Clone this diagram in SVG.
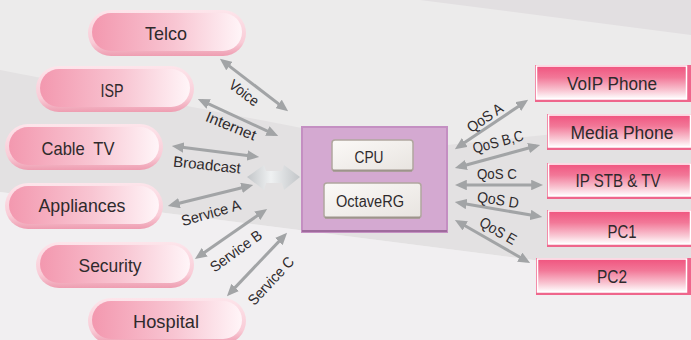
<svg xmlns="http://www.w3.org/2000/svg" width="691" height="340" viewBox="0 0 691 340">
<defs>
<linearGradient id="pillIn" x1="0" y1="0" x2="1" y2="0"><stop offset="0" stop-color="#f398af"/><stop offset="0.55" stop-color="#f8c5d2"/><stop offset="1" stop-color="#fff5f8"/></linearGradient>
<linearGradient id="pillRim" x1="0" y1="0" x2="0" y2="1"><stop offset="0" stop-color="#fde5eb"/><stop offset="0.7" stop-color="#f9ccd7"/><stop offset="1" stop-color="#ee9db1"/></linearGradient>
<linearGradient id="boxIn" x1="0" y1="0" x2="0" y2="1"><stop offset="0" stop-color="#f0547f"/><stop offset="0.35" stop-color="#f27898"/><stop offset="0.75" stop-color="#f9c8d4"/><stop offset="1" stop-color="#ffffff"/></linearGradient>
<linearGradient id="btn" x1="0" y1="0" x2="1" y2="1"><stop offset="0" stop-color="#fbf9f7"/><stop offset="1" stop-color="#e8e4e0"/></linearGradient>
<linearGradient id="dbl" x1="0" y1="0" x2="1" y2="0"><stop offset="0" stop-color="#c2c5c8"/><stop offset="0.45" stop-color="#eff1f2"/><stop offset="1" stop-color="#c2c5c8"/></linearGradient>
<marker id="ah" viewBox="0 0 4 3.5" markerWidth="4" markerHeight="3.5" refX="2.6" refY="1.75" orient="auto-start-reverse" markerUnits="strokeWidth"><path d="M0,0 L4,1.75 L0,3.5 z" fill="#a2a4a6"/></marker>
<style>
.rim{fill:url(#pillRim)}
.pin{fill:url(#pillIn)}
.frame{fill:#ef668c}
.bin{fill:url(#boxIn);stroke:#ffffff;stroke-width:1.5}
.btn{fill:url(#btn);stroke:#b0a79e;stroke-width:1.5}
.nl{font-family:"Liberation Sans",Arial,sans-serif;font-size:19px;fill:#2e2a2c;text-anchor:middle}
.rl{font-family:"Liberation Sans",Arial,sans-serif;font-size:18px;fill:#2e2a2c;text-anchor:middle}
.cl{font-family:"Liberation Sans",Arial,sans-serif;font-size:16px;fill:#2e2a2c;text-anchor:middle}
.el{font-family:"Liberation Sans",Arial,sans-serif;font-size:15px;fill:#2e2a2c;text-anchor:middle}
.arr{stroke:#a2a4a6;stroke-width:3;fill:none;marker-start:url(#ah);marker-end:url(#ah)}
</style>
</defs>
<g id="background">
<rect x="0" y="0" width="691" height="340" fill="#ecebeb"/>
<polygon points="420,0 691,0 691,35" fill="#e2dfe1"/>
<polygon points="0,70 302,128 447,145 691,120 691,280 0,192" fill="#e3e1e2"/>
<polygon points="0,192 691,280 691,340 0,340" fill="#f1eff1"/>
</g>
<g id="connectors">
<line class="arr" x1="223.2" y1="61.4" x2="284.8" y2="108.6"/>
<line class="arr" x1="201.6" y1="100.7" x2="274.4" y2="134.3"/>
<line class="arr" x1="176" y1="146.5" x2="255" y2="156.5"/>
<line class="arr" x1="171.9" y1="205" x2="249.1" y2="186"/>
<line class="arr" x1="198.3" y1="256.7" x2="263.7" y2="211.3"/>
<line class="arr" x1="229.8" y1="293.1" x2="284.2" y2="235.9"/>
<line class="arr" x1="458.3" y1="146.8" x2="524.7" y2="102.2"/>
<line class="arr" x1="458.9" y1="167" x2="536.1" y2="146"/>
<line class="arr" x1="459" y1="185" x2="539" y2="185"/>
<line class="arr" x1="458.9" y1="202.7" x2="538.1" y2="216.3"/>
<line class="arr" x1="458.5" y1="222" x2="526.5" y2="261"/>
<polygon points="247,177 264,165 266,171 282,171 284,165 300,177 284,190 282,183 266,183 264,190" fill="url(#dbl)"/>
<g transform="translate(244,93) rotate(37)"><text class="el" x="0" y="5" textLength="33" lengthAdjust="spacingAndGlyphs">Voice</text></g>
<g transform="translate(231,126) rotate(22)"><text class="el" x="0" y="5" textLength="53" lengthAdjust="spacingAndGlyphs">Internet</text></g>
<g transform="translate(207,165) rotate(6)"><text class="el" x="0" y="5" textLength="68" lengthAdjust="spacingAndGlyphs">Broadcast</text></g>
<g transform="translate(211,213) rotate(-16)"><text class="el" x="0" y="5" textLength="61" lengthAdjust="spacingAndGlyphs">Service A</text></g>
<g transform="translate(236,251) rotate(-36)"><text class="el" x="0" y="5" textLength="60" lengthAdjust="spacingAndGlyphs">Service B</text></g>
<g transform="translate(271,281) rotate(-47)"><text class="el" x="0" y="5" textLength="60" lengthAdjust="spacingAndGlyphs">Service C</text></g>
<g transform="translate(485,118) rotate(-34)"><text class="el" x="0" y="5" textLength="40" lengthAdjust="spacingAndGlyphs">QoS A</text></g>
<g transform="translate(498,142) rotate(-15)"><text class="el" x="0" y="5" textLength="52" lengthAdjust="spacingAndGlyphs">QoS B,C</text></g>
<g transform="translate(497,174)"><text class="el" x="0" y="5" textLength="40" lengthAdjust="spacingAndGlyphs">QoS C</text></g>
<g transform="translate(498,200) rotate(9)"><text class="el" x="0" y="5" textLength="42" lengthAdjust="spacingAndGlyphs">QoS D</text></g>
<g transform="translate(498,231) rotate(30)"><text class="el" x="0" y="5" textLength="40" lengthAdjust="spacingAndGlyphs">QoS E</text></g>
</g>
<g id="telco"><rect class="rim" x="88" y="10" width="158" height="46" rx="23"/><rect class="pin" x="92" y="13" width="150" height="38" rx="19"/><text class="nl" x="166" y="40" textLength="42" lengthAdjust="spacingAndGlyphs">Telco</text></g>
<g id="isp"><rect class="rim" x="36" y="66" width="158" height="46" rx="23"/><rect class="pin" x="40" y="69" width="150" height="38" rx="19"/><text class="nl" x="112" y="97" textLength="23" lengthAdjust="spacingAndGlyphs">ISP</text></g>
<g id="cabletv"><rect class="rim" x="5" y="124" width="158" height="46" rx="23"/><rect class="pin" x="9" y="127" width="150" height="38" rx="19"/><text class="nl" x="78" y="155" textLength="73" lengthAdjust="spacingAndGlyphs" word-spacing="5">Cable TV</text></g>
<g id="appliances"><rect class="rim" x="5" y="183" width="158" height="46" rx="23"/><rect class="pin" x="9" y="186" width="150" height="38" rx="19"/><text class="nl" x="82" y="212" textLength="87" lengthAdjust="spacingAndGlyphs">Appliances</text></g>
<g id="security"><rect class="rim" x="36" y="242" width="158" height="46" rx="23"/><rect class="pin" x="40" y="245" width="150" height="38" rx="19"/><text class="nl" x="110" y="272" textLength="63" lengthAdjust="spacingAndGlyphs">Security</text></g>
<g id="hospital"><rect class="rim" x="88" y="298" width="158" height="46" rx="23"/><rect class="pin" x="92" y="301" width="150" height="38" rx="19"/><text class="nl" x="166" y="328" textLength="66" lengthAdjust="spacingAndGlyphs">Hospital</text></g>
<g id="router">
<rect x="302" y="127" width="145" height="105" fill="#d4a9d1" stroke="#c48fc2" stroke-width="2"/>
<line x1="302" y1="231" x2="447" y2="231" stroke="#9f6b9d" stroke-width="2"/>
<g id="cpu"><rect class="btn" x="332" y="140" width="81" height="31" rx="3"/><line x1="333" y1="170.5" x2="412" y2="170.5" stroke="#9d948b" stroke-width="2"/><text class="cl" x="369" y="163" textLength="29" lengthAdjust="spacingAndGlyphs">CPU</text></g>
<g id="octavert"><rect class="btn" x="324" y="183" width="97" height="35" rx="3"/><line x1="325" y1="217.5" x2="420" y2="217.5" stroke="#9d948b" stroke-width="2"/><text class="cl" x="370" y="207" textLength="68" lengthAdjust="spacingAndGlyphs">OctaveRG</text></g>
</g>
<g id="voip"><rect class="frame" x="535" y="65" width="160" height="37"/><rect class="bin" x="536.5" y="66" width="150" height="33"/><text class="rl" x="612" y="90" textLength="90" lengthAdjust="spacingAndGlyphs">VoIP Phone</text></g>
<g id="mediaphone"><rect class="frame" x="547" y="114" width="148" height="36"/><rect class="bin" x="548.5" y="115" width="142" height="32"/><text class="rl" x="622" y="139" textLength="103" lengthAdjust="spacingAndGlyphs">Media Phone</text></g>
<g id="ipstb"><rect class="frame" x="547" y="163" width="148" height="36"/><rect class="bin" x="548.5" y="164" width="142" height="32"/><text class="rl" x="618" y="187" textLength="85" lengthAdjust="spacingAndGlyphs">IP STB &amp; TV</text></g>
<g id="pc1"><rect class="frame" x="547" y="210" width="148" height="37"/><rect class="bin" x="548.5" y="211" width="142" height="33"/><text class="rl" x="622" y="238" textLength="29" lengthAdjust="spacingAndGlyphs">PC1</text></g>
<g id="pc2"><rect class="frame" x="536" y="258" width="160" height="37"/><rect class="bin" x="537.5" y="259" width="149" height="33"/><text class="rl" x="612" y="283" textLength="30" lengthAdjust="spacingAndGlyphs">PC2</text></g>
</svg>
